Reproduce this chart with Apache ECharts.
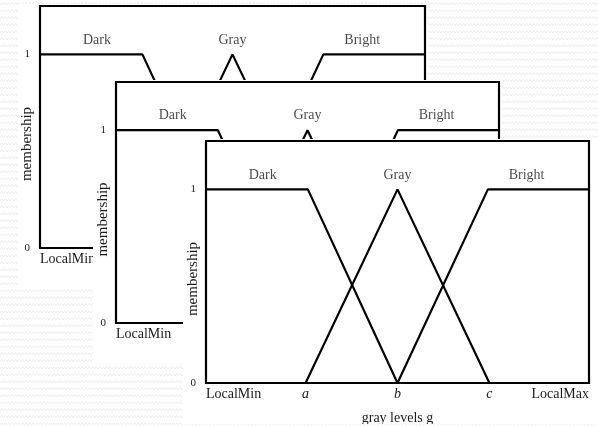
<!DOCTYPE html>
<html>
<head>
<meta charset="UTF-8">
<title>membership</title>
<script src="https://cdn.jsdelivr.net/npm/echarts@6/dist/echarts.min.js"></script>
<style>
    body {
        margin: 0;
        padding: 0;
        overflow: hidden;
        background-color: #fff;
        background-image: url("data:image/svg+xml;utf8,<svg xmlns='http://www.w3.org/2000/svg' width='7' height='7'><path d='M0 5 L1.75 2.5 L3.5 5 L5.25 2.5 L7 5' fill='none' stroke='%23ececec' stroke-width='1'/></svg>");
    }
    .wrap { position: relative; width: 598px; height: 426px; }
    .panel { position: absolute; background: #fff; }
</style>
</head>
<body>
<div class="wrap">
    <div class="panel" id="p1" style="left:18px;top:4px;width:410px;height:284px;"></div>
    <div class="panel" id="p2" style="left:93px;top:80px;width:409px;height:283px;"></div>
    <div class="panel" id="p3" style="left:183px;top:139px;width:415px;height:285px;"></div>
</div>
<script>
    // axis ticks / labels
    var xTicks = [0, 26, 50, 74, 100];
    var xLabels = ['LocalMin', 'a', 'b', 'c', 'LocalMax'];
    // membership functions
    var darkX = [0, 26.6, 50],   darkY = [1, 1, 0];
    var grayX = [26, 50, 74],    grayY = [0, 1, 0];
    var brightX = [50, 73.6, 100], brightY = [0, 1, 1];
    // set names and where they sit
    var setNames = ['Dark', 'Gray', 'Bright'];
    var setNameX = [14.8, 50, 83.7];
    var setNameY = 1.075;

    var font = 'Liberation Serif';
    var ink = '#1a1a1a';

    function pairs(xs, ys) {
        var out = [];
        for (var i = 0; i < xs.length; i++) out.push([xs[i], ys[i]]);
        return out;
    }

    function lineSeries(xs, ys) {
        return {
            type: 'line',
            data: pairs(xs, ys),
            showSymbol: false,
            lineStyle: { color: '#000', width: 2.2 },
            animation: false,
            z: 3
        };
    }

    function makeChart(id, grid) {
        var chart = echarts.init(document.getElementById(id));
        var labels = [];
        for (var i = 0; i < setNames.length; i++) {
            labels.push({ value: [setNameX[i], setNameY], name: setNames[i] });
        }
        var option = {
            animation: false,
            grid: {
                left: grid[0], top: grid[1], right: grid[2], bottom: grid[3],
                outerBoundsMode: 'none',
                containLabel: false,
                show: true, borderColor: '#000', borderWidth: 2.2,
                backgroundColor: 'transparent'
            },
            xAxis: {
                type: 'value',
                min: 0, max: 100,
                name: 'gray levels g',
                nameLocation: 'middle',
                nameGap: 28,
                nameMoveOverlap: false,
                nameTextStyle: { fontFamily: font, fontSize: 14, color: ink },
                axisLine: { show: false },
                axisTick: { show: false },
                splitLine: { show: false },
                axisLabel: {
                    customValues: xTicks,
                    margin: 4,
                    alignMinLabel: 'left',
                    alignMaxLabel: 'right',
                    fontFamily: font, fontSize: 14, color: ink,
                    formatter: function (v) {
                        var k = xTicks.indexOf(v);
                        var t = k >= 0 ? xLabels[k] : '';
                        return t.length === 1 ? '{it|' + t + '}' : t;
                    },
                    rich: { it: { fontFamily: font, fontSize: 14, fontStyle: 'italic', color: ink } }
                }
            },
            yAxis: {
                type: 'value',
                min: 0, max: 1.25, interval: 1,
                name: 'membership',
                nameLocation: 'middle',
                nameGap: 5,
                nameMoveOverlap: false,
                nameTextStyle: { fontFamily: font, fontSize: 15, color: ink, padding: [0, 34, 0, 0] },
                axisLine: { show: false },
                axisTick: { show: false },
                splitLine: { show: false },
                axisLabel: {
                    margin: 10,
                    fontFamily: font, fontSize: 11, color: ink,
                    formatter: function (v) { return v === 0 || v === 1 ? String(v) : ''; }
                }
            },
            series: [
                lineSeries(darkX, darkY),
                lineSeries(grayX, grayY),
                lineSeries(brightX, brightY),
                {
                    type: 'scatter',
                    symbolSize: 0,
                    data: labels,
                    label: {
                        show: true, position: 'inside',
                        formatter: '{b}',
                        fontFamily: font, fontSize: 14, color: ink
                    },
                    z: 4
                }
            ]
        };
        chart.setOption(option);
    }

    makeChart('p1', [22, 2, 3, 40]);
    makeChart('p2', [23, 2, 3, 40]);
    makeChart('p3', [23, 2, 9, 41]);
</script>
</body>
</html>
